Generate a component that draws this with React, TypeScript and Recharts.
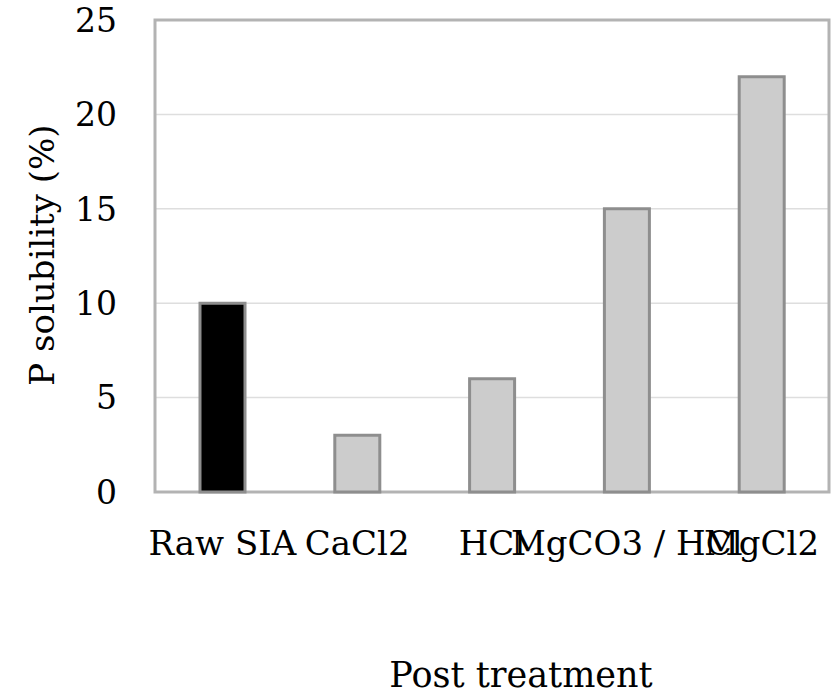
import React from "react";
import { BarChart, Bar, XAxis, YAxis, CartesianGrid, Cell, ReferenceArea } from "recharts";

// categories and P solubility values
const treatments = ["Raw SIA", "CaCl2", "HCl", "MgCO3 / HCl", "MgCl2"];
const solubility = [10, 3, 6, 15, 22];
const yTicks = [0, 5, 10, 15, 20, 25];

const data = treatments.map((name, i) => ({ name, value: solubility[i] }));

const font = "'DejaVu Serif', 'Liberation Serif', serif";

export default function App() {
    return (
        <div style={{ position: "fixed", left: 0, top: 0, background: "#fff" }}>
            <BarChart
                width={833}
                height={694}
                data={data}
                margin={{ top: 20, right: 4, left: 0, bottom: 0 }}
            >
                <CartesianGrid vertical={false} stroke="#dedede" strokeWidth={1.5} />
                <XAxis
                    dataKey="name"
                    height={202}
                    axisLine={false}
                    tickLine={false}
                    tickSize={0}
                    tickMargin={39}
                    interval={0}
                    tick={{ fill: "#000", fontSize: 34, fontFamily: font }}
                    label={() => (
                        <text
                            x={521}
                            y={687}
                            textAnchor="middle"
                            fontSize={35}
                            fontFamily={font}
                            fill="#000"
                        >
                            Post treatment
                        </text>
                    )}
                />
                <YAxis
                    width={155}
                    domain={[0, 25]}
                    ticks={yTicks}
                    axisLine={false}
                    tickLine={false}
                    tickSize={0}
                    tickMargin={38}
                    tick={{ fill: "#000", fontSize: 33, fontFamily: font }}
                    label={() => (
                        <text
                            x={0}
                            y={0}
                            transform="translate(54, 255) rotate(-90)"
                            textAnchor="middle"
                            fontSize={34}
                            fontFamily={font}
                            fill="#000"
                        >
                            P solubility (%)
                        </text>
                    )}
                />
                <Bar
                    dataKey="value"
                    barSize={45}
                    stroke="#8e8e8e"
                    strokeWidth={3}
                    isAnimationActive={false}
                >
                    {data.map((d, i) => (
                        <Cell key={d.name} fill={i === 0 ? "#000000" : "#cccccc"} />
                    ))}
                </Bar>
                <ReferenceArea y1={0} y2={25} fill="none" stroke="#b3b3b3" strokeWidth={3} />
            </BarChart>
        </div>
    );
}
